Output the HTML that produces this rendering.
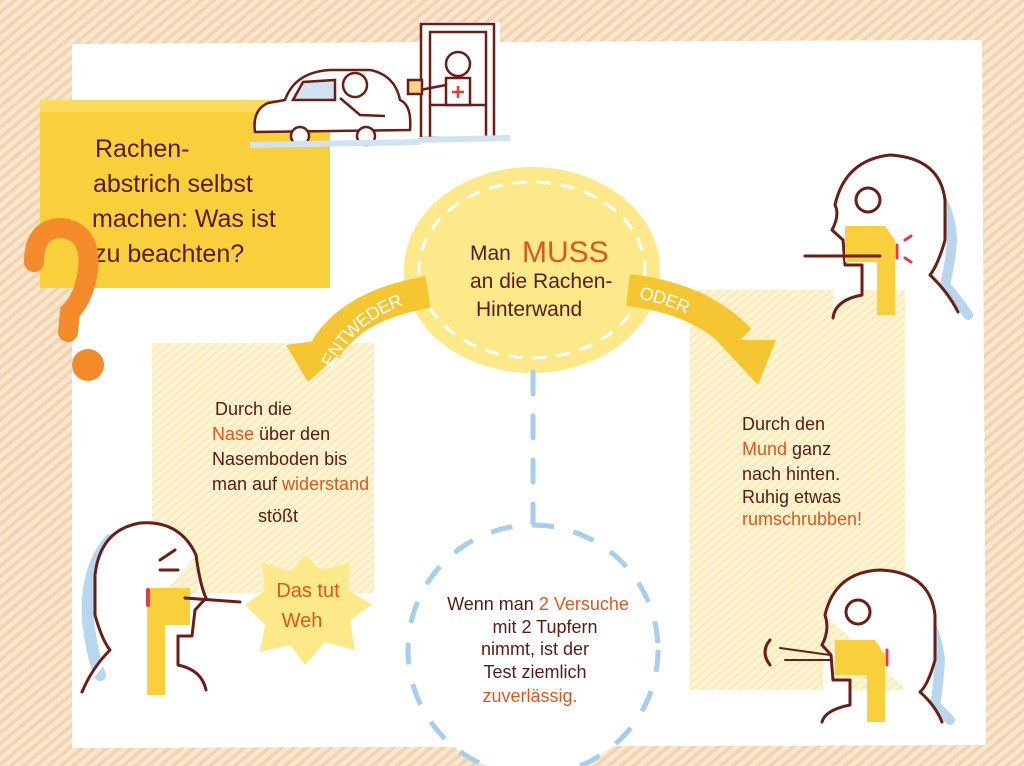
<!DOCTYPE html>
<html><head><meta charset="utf-8"><style>
html,body{margin:0;padding:0}
body{width:1024px;height:766px;overflow:hidden;background:#f7e3ca;position:relative;font-family:"Liberation Sans",sans-serif}
svg{position:absolute;left:0;top:0}
text{font-family:"Liberation Sans",sans-serif}
</style></head><body>
<svg width="1024" height="766" viewBox="0 0 1024 766">
<defs>
<pattern id="hatch" width="8" height="8" patternUnits="userSpaceOnUse" patternTransform="rotate(-40)">
<rect width="8" height="8" fill="#f8e6cf"/><rect width="8" height="3.5" fill="#f2d3ad"/>
</pattern>
<pattern id="yh" width="6" height="6" patternUnits="userSpaceOnUse" patternTransform="rotate(-40)">
<rect width="6" height="6" fill="#fdf4d6"/><rect width="6" height="2" fill="#faeab4"/>
</pattern>
<path id="lp" d="M322 372 Q352 305 428 292"/>
<path id="rp" d="M628 290 Q690 298 730 336"/>
</defs>
<rect width="1024" height="766" fill="url(#hatch)"/>
<path d="M72 44 L420 42 L420 22 L500 22 L500 42 L982 40 L986 745 L72 748 Z" fill="#fff"/>
<rect x="40" y="100" width="290" height="188" fill="#f9cf3c"/>
<rect x="40" y="100" width="290" height="12" fill="#fbdb5e"/>
<g fill="#5a1a10" font-size="25">
<text x="95" y="157">Rachen-</text>
<text x="93" y="192">abstrich selbst</text>
<text x="92" y="227">machen: Was ist</text>
<text x="94" y="262">zu beachten?</text>
</g>
<path d="M34 262 Q34 228 62 228 Q92 232 88 270 Q84 298 70 312 L68 332" fill="none" stroke="#f58a2a" stroke-width="20" stroke-linecap="round"/>
<circle cx="88" cy="365" r="16" fill="#f58a2a"/>
<rect x="152" y="343" width="222" height="250" fill="url(#yh)"/>
<rect x="690" y="290" width="215" height="400" fill="url(#yh)"/>
<g fill="none" stroke="#6b1e16" stroke-width="2.5">
<path d="M255 132 Q252 110 268 103 L285 100 Q295 72 330 70 L370 70 Q395 75 400 100 Q412 105 410 130 Z" fill="#fff"/>
<path d="M293 100 L303 82 L335 80 L335 100 Z" fill="#cfe3f3"/>
<circle cx="300" cy="136" r="9" fill="#fff"/><circle cx="366" cy="136" r="9" fill="#fff"/>
<circle cx="355" cy="85" r="12" fill="#fff"/>
<path d="M340 98 L360 115 L385 116"/>
<rect x="421" y="24" width="73" height="114" fill="#fff"/>
<rect x="430" y="32" width="56" height="106"/>
<path d="M430 105 L486 105"/>
<circle cx="458" cy="64" r="12" fill="#fff"/>
<path d="M446 78 L470 78 L470 105 L446 105 Z" fill="#fff"/>
<path d="M452 92 h12 M458 86 v12" stroke="#e04030"/>
<path d="M446 85 L420 90"/>
<rect x="408" y="80" width="14" height="14" fill="#f7d48a"/>
</g>
<path d="M250 145 L420 142 M420 140 L510 138" stroke="#cfe3f3" stroke-width="6"/>
<ellipse cx="532" cy="270" rx="128" ry="103" fill="#fde98a"/>
<ellipse cx="532" cy="270" rx="113" ry="88" fill="none" stroke="#fff" stroke-width="3" stroke-dasharray="14 10"/>
<g font-size="21" fill="#5a1a10">
<text x="470" y="260">Man</text>
<text x="522" y="262" font-size="30" fill="#e2561e">MUSS</text>
<text x="470" y="288">an die Rachen-</text>
<text x="476" y="316">Hinterwand</text>
</g>
<path d="M428 292 Q352 305 325 350" fill="none" stroke="#f5c631" stroke-width="32"/>
<polygon points="286,345 360,335 308,382" fill="#f5c631"/>
<text font-size="18" fill="#fff" dy="7"><textPath href="#lp" startOffset="8">ENTWEDER</textPath></text>
<path d="M628 290 Q700 298 740 340" fill="none" stroke="#f5c631" stroke-width="32"/>
<polygon points="716,340 776,340 758,385" fill="#f5c631"/>
<text font-size="18" fill="#fff" dy="7"><textPath href="#rp" startOffset="12">ODER</textPath></text>
<path d="M533 372 L533 555" stroke="#a9cdec" stroke-width="5" stroke-dasharray="22 22" stroke-linecap="round"/>
<circle cx="533" cy="650" r="125" fill="#fff" stroke="#a9cdec" stroke-width="5" stroke-dasharray="22 20"/>
<g font-size="18" fill="#5a1a10" text-anchor="middle">
<text x="538" y="610">Wenn man <tspan fill="#e2561e">2 Versuche</tspan></text>
<text x="545" y="633">mit 2 Tupfern</text>
<text x="535" y="655">nimmt, ist der</text>
<text x="535" y="678">Test ziemlich</text>
<text x="530" y="702" fill="#e2561e">zuverlässig.</text>
</g>
<g font-size="18" fill="#5a1a10">
<text x="215" y="415">Durch die</text>
<text x="212" y="440"><tspan fill="#e2561e">Nase</tspan> über den</text>
<text x="212" y="465">Nasemboden bis</text>
<text x="212" y="490">man auf <tspan fill="#e2561e">widerstand</tspan></text>
<text x="258" y="522">stößt</text>
</g>
<g font-size="18" fill="#5a1a10">
<text x="742" y="430">Durch den</text>
<text x="742" y="455"><tspan fill="#e2561e">Mund</tspan> ganz</text>
<text x="742" y="480">nach hinten.</text>
<text x="742" y="503">Ruhig etwas</text>
<text x="742" y="525" fill="#e2561e">rumschrubben!</text>
</g>
<polygon points="305,555 320,570 350,563 348,590 372,605 350,620 355,650 325,642 305,665 290,645 260,652 265,625 245,605 265,590 262,562 290,572" fill="#fde98a"/>
<text x="308" y="597" font-size="20" fill="#e2561e" text-anchor="middle">Das tut</text>
<text x="302" y="627" font-size="20" fill="#e2561e" text-anchor="middle">Weh</text>
<g fill="none" stroke-linejoin="round" stroke-linecap="round">
<path d="M915 170 Q950 195 952 240 Q950 265 945 285 Q958 300 968 315" stroke="#b8d6ee" stroke-width="10"/>
<path d="M835 205 Q845 160 890 155 Q940 158 945 200 L945 240 Q938 265 930 275 Q948 292 958 312 M833 318 Q835 300 862 295 L862 265 L845 265 L843 240 L832 230 Q840 215 835 205" fill="#fff" stroke="#6b1e16" stroke-width="3"/>
<path d="M845 226 L885 226 L895 240 L895 315 L877 315 L877 262 L845 262 Z" fill="#f9cf3c"/>
<circle cx="868" cy="200" r="12" fill="#fff" stroke="#6b1e16" stroke-width="3"/>
<path d="M805 256 L880 256" stroke="#6b1e16" stroke-width="3"/>
<path d="M897 245 L897 258 M905 240 L911 236 M905 258 L911 262" stroke="#e63950" stroke-width="3"/>
</g>
<g fill="none" stroke-linejoin="round" stroke-linecap="round">
<path d="M110 540 Q85 570 88 620 Q92 655 100 675" stroke="#b8d6ee" stroke-width="12"/>
<path d="M196 555 Q180 520 140 523 Q100 530 95 575 L95 615 Q102 640 110 650 Q92 668 82 692 M206 690 Q202 670 178 665 L178 636 L192 636 L195 610 L206 598 Q200 585 196 555" fill="#fff" stroke="#6b1e16" stroke-width="3"/>
<path d="M150 588 L190 588 L190 625 L165 625 L165 695 L147 695 L147 603 Z" fill="#f9cf3c"/>
<path d="M160 560 L175 550 M160 570 L178 570" stroke="#6b1e16" stroke-width="3"/>
<path d="M185 598 L240 602" stroke="#6b1e16" stroke-width="3"/>
<path d="M148 590 L148 605" stroke="#e63950" stroke-width="4"/>
</g>
<g fill="none" stroke-linejoin="round" stroke-linecap="round">
<path d="M905 590 Q935 615 940 660 Q938 690 935 705 Q945 715 950 720" stroke="#b8d6ee" stroke-width="10"/>
<path d="M825 615 Q835 572 880 570 Q930 572 935 615 L935 660 Q928 685 920 692 Q935 705 942 722 M822 722 Q825 710 850 705 L850 680 L833 680 L831 655 L822 645 Q830 630 825 615" fill="#fff" stroke="#6b1e16" stroke-width="3"/>
<path d="M835 640 L875 640 L885 655 L885 722 L867 722 L867 675 L835 675 Z" fill="#f9cf3c"/>
<circle cx="858" cy="612" r="12" fill="#fff" stroke="#6b1e16" stroke-width="3"/>
<path d="M780 648 L830 655 M785 660 L830 660" stroke="#6b1e16" stroke-width="2"/>
<path d="M770 640 Q760 652 770 665" stroke="#6b1e16" stroke-width="3"/>
<path d="M887 650 L887 665" stroke="#e63950" stroke-width="3"/>
</g>
</svg>
</body></html>
